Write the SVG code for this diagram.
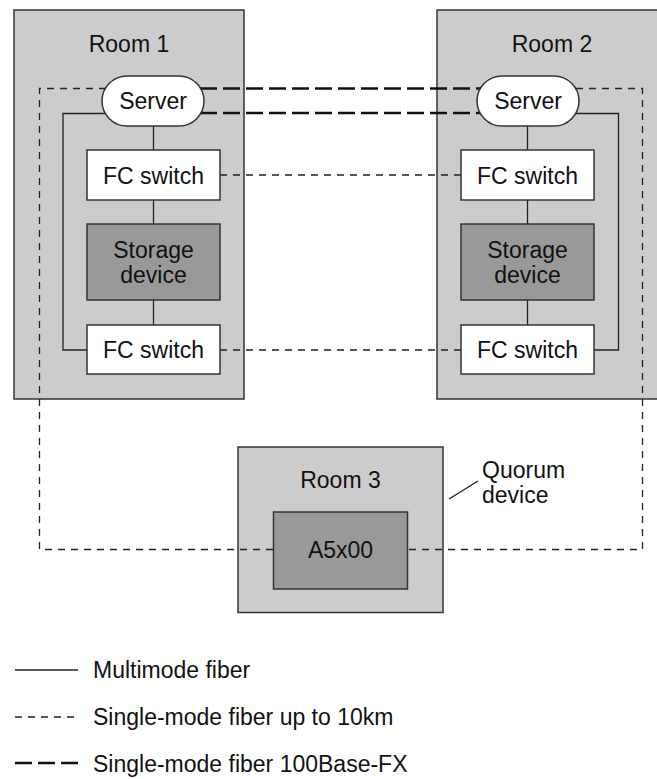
<svg xmlns="http://www.w3.org/2000/svg" width="657" height="779" viewBox="0 0 657 779">
<style>
text{font-family:"Liberation Sans",Arial,sans-serif;font-size:23px;fill:#111;text-anchor:middle}
.room{fill:#cccccc;stroke:#333;stroke-width:1.5}
.box{fill:#fff;stroke:#333;stroke-width:1.5}
.dev{fill:#999999;stroke:#333;stroke-width:1.5}
.mm{fill:none;stroke:#222;stroke-width:1.3}
.sm{fill:none;stroke:#222;stroke-width:1.3;stroke-dasharray:7 6}
.fx{fill:none;stroke:#111;stroke-width:2.6;stroke-dasharray:17 6}
.lt{text-anchor:start}
</style>
<rect width="657" height="779" fill="#fff"/>
<g id="room1"><rect class="room" x="14" y="10" width="230" height="389"/><text x="129" y="52">Room 1</text></g>
<g id="room2"><rect class="room" x="437" y="10" width="230" height="389"/><text x="552" y="52">Room 2</text></g>
<g id="room3"><rect class="room" x="238" y="447" width="205" height="165.5"/><text x="340.5" y="488">Room 3</text></g>
<g id="connectors">
<path class="mm" d="M106 113.5H63V350H87"/>
<path class="mm" d="M576 113.5H618.5V350H594"/>
<path class="mm" d="M153.5 126V150M153.5 200V224M153.5 300V325"/>
<path class="mm" d="M527.5 126V150M527.5 200V224M527.5 300V325"/>
<path class="sm" d="M106 88.5H39.5V549.5H273"/>
<path class="sm" d="M576 88.5H642.5V549.5H408"/>
<path class="sm" d="M220 175H461M220 350H461"/>
<path class="fx" d="M200 88.5H481M200 113H481"/>
<path class="mm" d="M449 499L478 481"/>
</g>
<g id="server1"><rect class="box" x="102" y="76" width="102" height="50" rx="25" ry="25"/><text x="153" y="109">Server</text></g>
<g id="server2"><rect class="box" x="477" y="76" width="102" height="50" rx="25" ry="25"/><text x="528" y="109">Server</text></g>
<g id="fcswitch1a"><rect class="box" x="87" y="150" width="133" height="50"/><text x="153.5" y="183.5">FC switch</text></g>
<g id="storage1"><rect class="dev" x="87" y="224" width="133" height="76"/><text x="153.5" y="258">Storage</text><text x="153.5" y="283">device</text></g>
<g id="fcswitch1b"><rect class="box" x="87" y="325" width="133" height="49"/><text x="153.5" y="358">FC switch</text></g>
<g id="fcswitch2a"><rect class="box" x="461" y="150" width="133" height="50"/><text x="527.5" y="183.5">FC switch</text></g>
<g id="storage2"><rect class="dev" x="461" y="224" width="133" height="76"/><text x="527.5" y="258">Storage</text><text x="527.5" y="283">device</text></g>
<g id="fcswitch2b"><rect class="box" x="461" y="325" width="133" height="49"/><text x="527.5" y="358">FC switch</text></g>
<g id="a5x00"><rect class="dev" x="273.5" y="512" width="134" height="77"/><text x="340.5" y="558">A5x00</text></g>
<g id="quorum"><text class="lt" x="482" y="478">Quorum</text><text class="lt" x="482" y="503">device</text></g>
<g id="legend">
<path class="mm" d="M15 670H78"/>
<path class="sm" d="M15 717H78"/>
<path class="fx" d="M15 763H78"/>
<text class="lt" x="93" y="678">Multimode fiber</text>
<text class="lt" x="93" y="725">Single-mode fiber up to 10km</text>
<text class="lt" x="93" y="772">Single-mode fiber 100Base-FX</text>
</g>
</svg>
